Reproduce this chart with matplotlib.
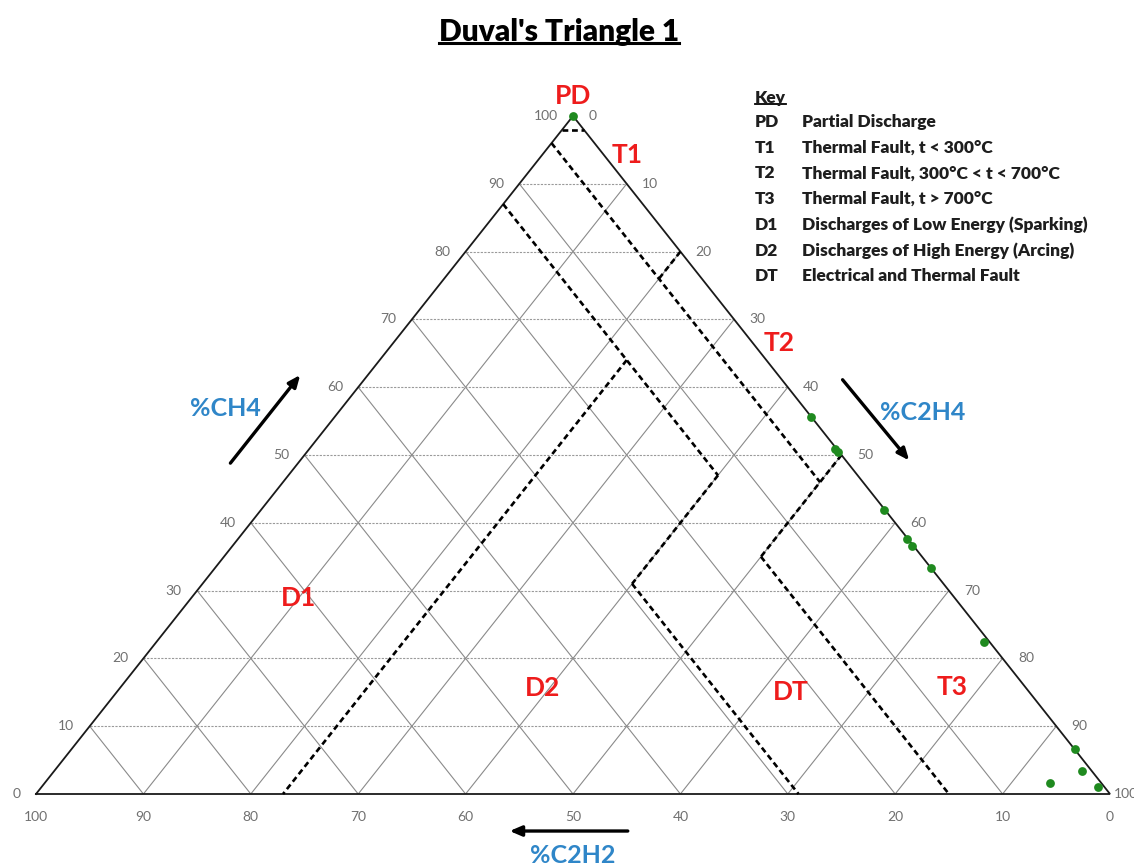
import matplotlib
matplotlib.use("Agg")
import matplotlib.pyplot as plt
from matplotlib.lines import Line2D

# ---- data -------------------------------------------------------------
# gas samples as (%CH4, %C2H4, %C2H2)
ch4 = [100.0, 55.6, 50.9, 50.4, 41.9, 37.6, 36.6, 33.3, 22.4, 6.6, 3.4, 1.0, 1.6]
c2h4 = [0.0, 44.4, 48.9, 49.5, 58.0, 62.3, 63.3, 66.7, 77.1, 93.4, 95.7, 98.4, 93.6]
c2h2 = [0.0, 0.0, 0.2, 0.1, 0.1, 0.1, 0.1, 0.0, 0.5, 0.0, 0.9, 0.6, 4.8]

tick_values = [0, 10, 20, 30, 40, 50, 60, 70, 80, 90, 100]

# zone boundaries of Duval triangle 1, end points as (%CH4, %C2H4, %C2H2)
zone_borders = [
    ((98, 0, 2), (98, 2, 0)),       # PD
    ((96, 0, 4), (46, 50, 4)),      # C2H2 = 4
    ((80, 20, 0), (76, 20, 4)),     # C2H4 = 20
    ((50, 50, 0), (35, 50, 15)),    # C2H4 = 50
    ((35, 50, 15), (0, 85, 15)),    # C2H2 = 15
    ((87, 0, 13), (47, 40, 13)),    # C2H2 = 13
    ((64, 23, 13), (0, 23, 77)),    # C2H4 = 23
    ((47, 40, 13), (31, 40, 29)),   # C2H4 = 40
    ((31, 40, 29), (0, 71, 29)),    # C2H2 = 29
]

zone_names = ["PD", "T1", "T2", "D1", "D2", "DT", "T3"]
# label anchors as (%CH4, %C2H4)
zone_label_pos = [(102.9, -1.45), (94.2, 7.9), (66.5, 35.95),
                  (28.9, 9.95), (15.6, 39.4), (15.0, 62.8), (15.8, 77.4)]

key_codes = ["PD", "T1", "T2", "T3", "D1", "D2", "DT"]
key_texts = ["Partial Discharge",
             "Thermal Fault, t < 300\u00b0C",
             "Thermal Fault, 300\u00b0C < t < 700\u00b0C",
             "Thermal Fault, t > 700\u00b0C",
             "Discharges of Low Energy (Sparking)",
             "Discharges of High Energy (Arcing)",
             "Electrical and Thermal Fault"]


def to_xy(c, e):
    """ternary (%CH4, %C2H4) -> cartesian plot coordinates"""
    return e + c / 2.0, c


W, H = 1134, 868
FONT = ["Lato", "DejaVu Sans"]
RED = "#EE1C1C"
BLUE = "#2F86C8"
GREY_TXT = "#707070"
KEY_COL = "#1E1E1E"

fig = plt.figure(figsize=(W / 100, H / 100), dpi=100)
fig.patch.set_facecolor("white")
ax = fig.add_axes([36 / W, (H - 794) / H, 1074 / W, 678 / H])
ax.set_xlim(0, 100)
ax.set_ylim(0, 100)
ax.axis("off")

# grid
for v in tick_values[1:-1]:
    # constant CH4 (horizontal, dotted)
    x0, y0 = to_xy(v, 0)
    x1, y1 = to_xy(v, 100 - v)
    ax.plot([x0, x1], [y0, y1], color="#9A9A9A", lw=0.8,
            dashes=(2.0, 1.2), zorder=1)
    # constant C2H2 (parallel to right side)
    x0, y0 = to_xy(0, 100 - v)
    x1, y1 = to_xy(100 - v, 0)
    ax.plot([x0, x1], [y0, y1], color="#8A8A8A", lw=0.8, zorder=1)
    # constant C2H4 (parallel to left side)
    x0, y0 = to_xy(0, v)
    x1, y1 = to_xy(100 - v, v)
    ax.plot([x0, x1], [y0, y1], color="#8A8A8A", lw=0.8, zorder=1)

# outline
corners = [to_xy(0, 0), to_xy(100, 0), to_xy(0, 100), to_xy(0, 0)]
ax.plot([p[0] for p in corners], [p[1] for p in corners],
        color="#1A1A1A", lw=1.3, zorder=3, clip_on=False,
        solid_joinstyle="miter")

# zone borders
for p, q in zone_borders:
    x0, y0 = to_xy(p[0], p[1])
    x1, y1 = to_xy(q[0], q[1])
    ax.plot([x0, x1], [y0, y1], color="black", lw=1.9,
            dashes=(2.2, 1.4), zorder=4, clip_on=False)

# samples
px, py = zip(*[to_xy(c, e) for c, e in zip(ch4, c2h4)])
ax.scatter(px, py, s=40, color="#1F8A1F", zorder=6, clip_on=False,
           linewidths=0)

# tick labels
tick_kw = dict(fontsize=10, color=GREY_TXT, family=FONT,
               textcoords="offset points", annotation_clip=False)
for v in tick_values:
    # left side: %CH4
    ax.annotate(str(v), to_xy(v, 0), xytext=(-11, 0), ha="right",
                va="center", **tick_kw)
    # right side: %C2H4
    off = 3 if v == 100 else 11
    ax.annotate(str(v), to_xy(100 - v, v), xytext=(off, 0), ha="left",
                va="center", **tick_kw)
    # bottom: %C2H2
    ax.annotate(str(v), to_xy(0, 100 - v), xytext=(0, -16.5), ha="center",
                va="center", **tick_kw)

# zone names
for name, pos in zip(zone_names, zone_label_pos):
    x, y = to_xy(pos[0], pos[1])
    ax.text(x, y, name, color=RED, fontsize=19, fontweight="bold",
            family=FONT, ha="center", va="center", zorder=7, clip_on=False)

# axis names with direction arrows
ax_kw = dict(color=BLUE, fontsize=18, fontweight="bold", family=FONT,
             ha="center", va="center", clip_on=False)
ax.text(17.6, 56.9, "%CH4", **ax_kw)
ax.text(82.6, 56.3, "%C2H4", **ax_kw)
ax.text(50.0, -9.0, "%C2H2", **ax_kw)
arrow = dict(arrowstyle="-|>,head_length=0.7,head_width=0.3",
             color="black", lw=2.4, shrinkA=0, shrinkB=0)
ax.annotate("", xy=(24.6, 61.8), xytext=(18.1, 48.8), arrowprops=arrow,
            annotation_clip=False)
ax.annotate("", xy=(81.3, 49.2), xytext=(75.1, 61.1), arrowprops=arrow,
            annotation_clip=False)
ax.annotate("", xy=(44.1, -5.46), xytext=(55.1, -5.46), arrowprops=arrow,
            annotation_clip=False)

# title and key
title = fig.text(559 / W, 1 - 32 / H, "Duval's Triangle 1", fontsize=21.5,
                 fontweight="heavy", family=FONT, ha="center", va="center")
key_head = fig.text(755 / W, 1 - 98 / H, "Key", fontsize=12.5,
                    fontweight="heavy", family=FONT, ha="left", va="center",
                    color=KEY_COL)
row_y = 122
for code, desc in zip(key_codes, key_texts):
    fig.text(755 / W, 1 - row_y / H, code, fontsize=12.5, fontweight="heavy",
             family=FONT, ha="left", va="center", color=KEY_COL)
    fig.text(802 / W, 1 - row_y / H, desc, fontsize=12.5, fontweight="heavy",
             family=FONT, ha="left", va="center", color=KEY_COL)
    row_y += 25.7

# underline title and key heading
fig.canvas.draw()
renderer = fig.canvas.get_renderer()
for t, gap, lw in [(title, 3, 2.2), (key_head, 2, 1.3)]:
    bb = t.get_window_extent(renderer)
    yline = bb.y0 + gap
    fig.add_artist(Line2D([bb.x0 / W, bb.x1 / W], [yline / H, yline / H],
                          transform=fig.transFigure, color="black", lw=lw))

fig.savefig("out.png", dpi=100, facecolor="white")
